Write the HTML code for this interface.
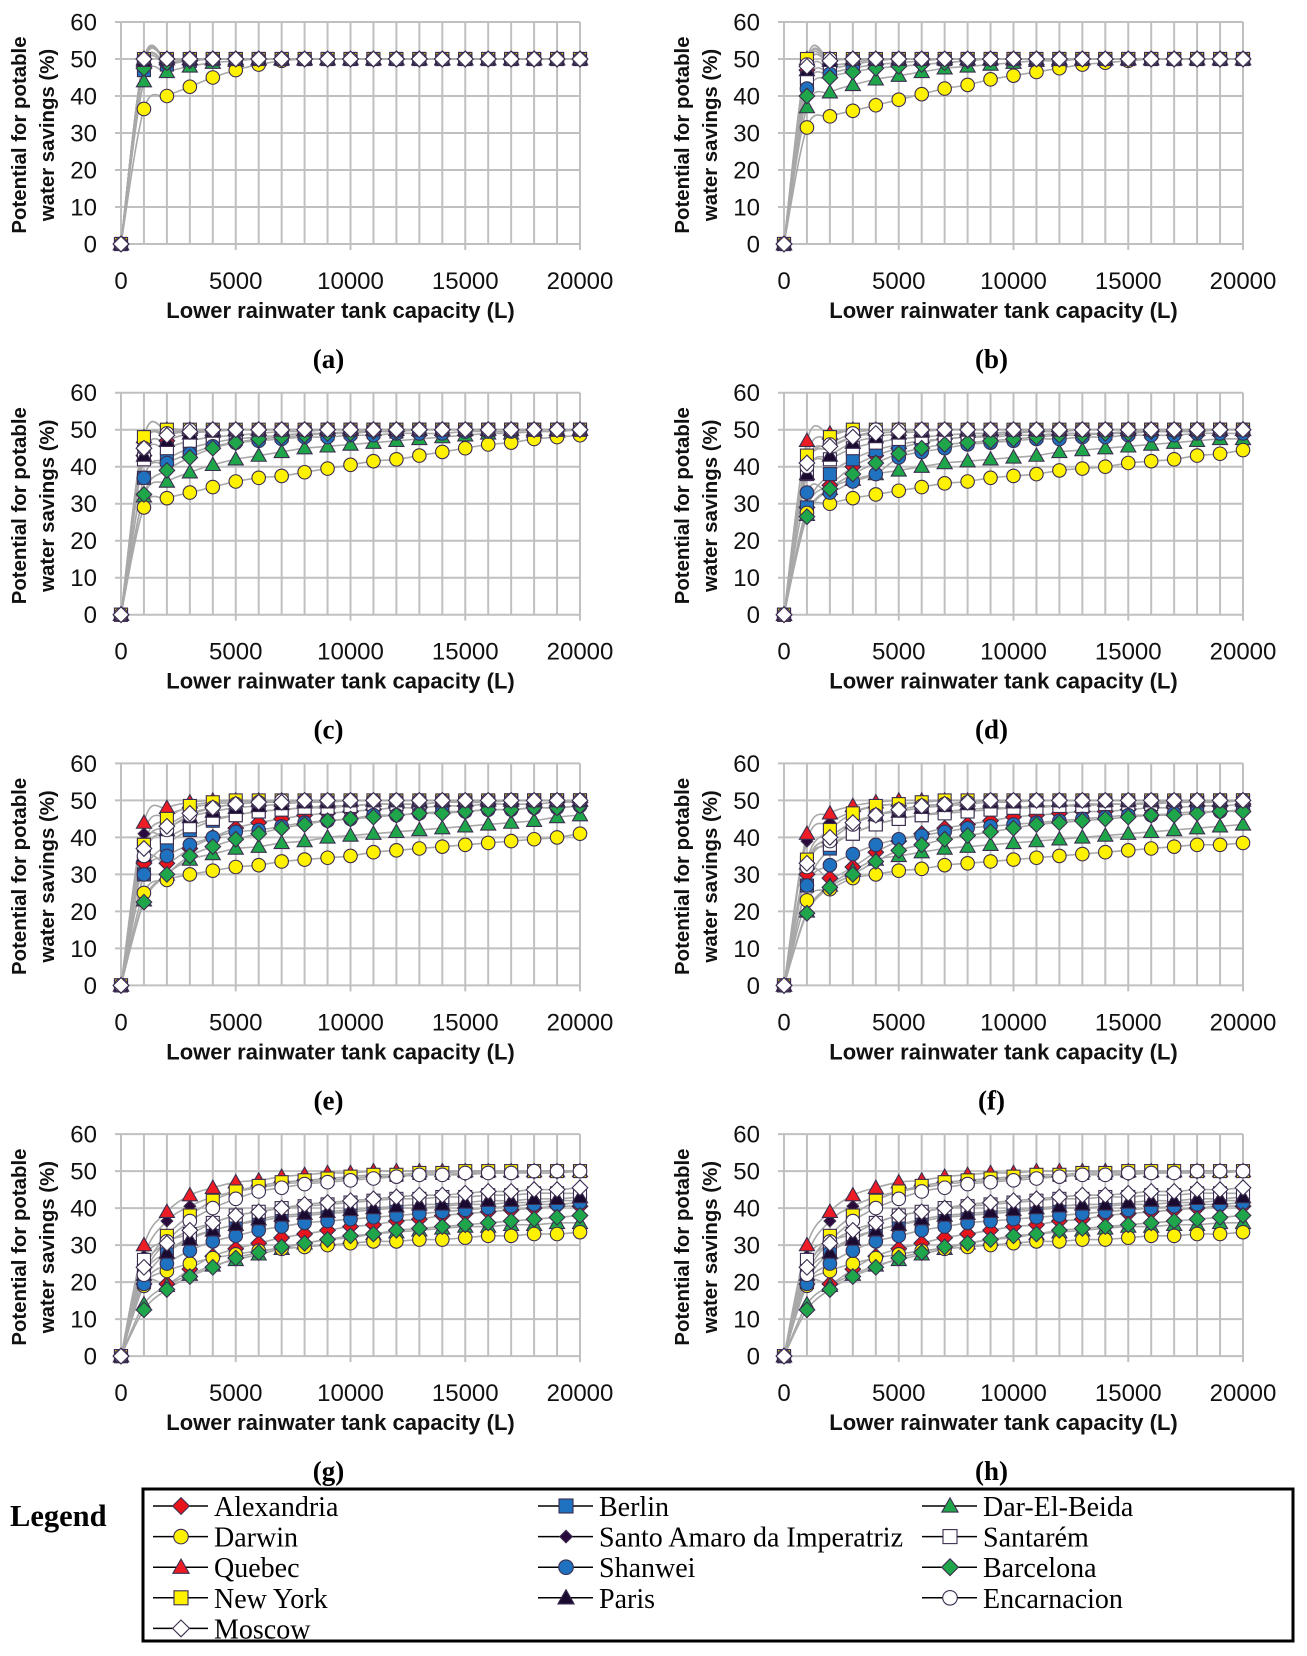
<!DOCTYPE html>
<html><head><meta charset="utf-8"><style>
html,body{margin:0;padding:0;background:#fff;}
svg{display:block;}
</style></head><body>
<svg id="fig" width="1307" height="1656" viewBox="0 0 1307 1656" xmlns="http://www.w3.org/2000/svg"></svg>
<script>
// ---- data ----
const xValues = [0,1000,2000,3000,4000,5000,6000,7000,8000,9000,10000,11000,12000,13000,14000,15000,16000,17000,18000,19000,20000];
const xTicks = [0,5000,10000,15000,20000];
const yTicks = [0,10,20,30,40,50,60];
const seriesNames = ["Alexandria","Berlin","Dar-El-Beida","Darwin","Santo Amaro da Imperatriz","Santarém","Quebec","Shanwei","Barcelona","New York","Paris","Encarnacion","Moscow"];
const panelLabels = ["(a)","(b)","(c)","(d)","(e)","(f)","(g)","(h)"];

const panelA = [
[0,50,50,50,50,50,50,50,50,50,50,50,50,50,50,50,50,50,50,50,50],
[0,47,48.5,49.5,50,50,50,50,50,50,50,50,50,50,50,50,50,50,50,50,50],
[0,44,46.5,48,49,49.5,50,50,50,50,50,50,50,50,50,50,50,50,50,50,50],
[0,36.5,40,42.5,45,47,48.5,49.5,50,50,50,50,50,50,50,50,50,50,50,50,50],
[0,50,50,50,50,50,50,50,50,50,50,50,50,50,50,50,50,50,50,50,50],
[0,49,50,50,50,50,50,50,50,50,50,50,50,50,50,50,50,50,50,50,50],
[0,50,50,50,50,50,50,50,50,50,50,50,50,50,50,50,50,50,50,50,50],
[0,48,49,50,50,50,50,50,50,50,50,50,50,50,50,50,50,50,50,50,50],
[0,47.5,49,49.5,50,50,50,50,50,50,50,50,50,50,50,50,50,50,50,50,50],
[0,50,50,50,50,50,50,50,50,50,50,50,50,50,50,50,50,50,50,50,50],
[0,49.5,50,50,50,50,50,50,50,50,50,50,50,50,50,50,50,50,50,50,50],
[0,50,50,50,50,50,50,50,50,50,50,50,50,50,50,50,50,50,50,50,50],
[0,50,50,50,50,50,50,50,50,50,50,50,50,50,50,50,50,50,50,50,50]];

const panelB = [
[0,47,49.5,50,50,50,50,50,50,50,50,50,50,50,50,50,50,50,50,50,50],
[0,43,47,48.5,49.5,50,50,50,50,50,50,50,50,50,50,50,50,50,50,50,50],
[0,37,41,43,44.5,45.5,46.5,47.5,48,48.5,49,49.5,49.5,50,50,50,50,50,50,50,50],
[0,31.5,34.5,36,37.5,39,40.5,42,43,44.5,45.5,46.5,47.5,48.5,49,49.5,50,50,50,50,50],
[0,49,50,50,50,50,50,50,50,50,50,50,50,50,50,50,50,50,50,50,50],
[0,45,48,49,50,50,50,50,50,50,50,50,50,50,50,50,50,50,50,50,50],
[0,50,50,50,50,50,50,50,50,50,50,50,50,50,50,50,50,50,50,50,50],
[0,42,46,47.5,48.5,49,49.5,50,50,50,50,50,50,50,50,50,50,50,50,50,50],
[0,40,45,46.5,47.5,48,48.5,49,49.5,50,50,50,50,50,50,50,50,50,50,50,50],
[0,50,50,50,50,50,50,50,50,50,50,50,50,50,50,50,50,50,50,50,50],
[0,47,49.5,50,50,50,50,50,50,50,50,50,50,50,50,50,50,50,50,50,50],
[0,48.5,50,50,50,50,50,50,50,50,50,50,50,50,50,50,50,50,50,50,50],
[0,48,49.5,50,50,50,50,50,50,50,50,50,50,50,50,50,50,50,50,50,50]];

const panelC = [
[0,43,47,49,50,50,50,50,50,50,50,50,50,50,50,50,50,50,50,50,50],
[0,37,42,45,46.5,47.5,48,48.5,49,49,49.5,49.5,49.5,50,50,50,50,50,50,50,50],
[0,32,36,38.5,40.5,42,43,44,45,45.5,46,46.5,47,47.5,48,48.5,49,49,49.5,49.5,50],
[0,29,31.5,33,34.5,36,37,37.5,38.5,39.5,40.5,41.5,42,43,44,45,46,46.5,47.5,48,48.5],
[0,45,48.5,50,50,50,50,50,50,50,50,50,50,50,50,50,50,50,50,50,50],
[0,42,45,47,48,48.5,49,49.5,49.5,50,50,50,50,50,50,50,50,50,50,50,50],
[0,48,50,50,50,50,50,50,50,50,50,50,50,50,50,50,50,50,50,50,50],
[0,37,41,43.5,45.5,46.5,47,47.5,48,48,48.5,48.5,49,49,49,49.5,49.5,49.5,50,50,50],
[0,32.5,39,42.5,45,46.5,47.5,48,48.5,49,49,49.5,49.5,50,50,50,50,50,50,50,50],
[0,48,50,50,50,50,50,50,50,50,50,50,50,50,50,50,50,50,50,50,50],
[0,43,47,49,49.5,50,50,50,50,50,50,50,50,50,50,50,50,50,50,50,50],
[0,45,49,50,50,50,50,50,50,50,50,50,50,50,50,50,50,50,50,50,50],
[0,45,48.5,49.5,50,50,50,50,50,50,50,50,50,50,50,50,50,50,50,50,50]];

const panelD = [
[0,29,35,40,43,45,46.5,47.5,48,48.5,49,49.5,49.5,50,50,50,50,50,50,50,50],
[0,29,38,42,44.5,46,47,47.5,48,48,48.5,48.5,49,49,49,49.5,49.5,49.5,50,50,50],
[0,27,34,36.5,38,39,40,41,41.5,42,42.5,43,44,44.5,45,45.5,46,46.5,47,47.5,47.5],
[0,27.5,30,31.5,32.5,33.5,34.5,35.5,36,37,37.5,38,39,39.5,40,41,41.5,42,43,43.5,44.5],
[0,40,45,48,49.5,50,50,50,50,50,50,50,50,50,50,50,50,50,50,50,50],
[0,38,42,45,46.5,47.5,48,48.5,49,49,49.5,49.5,49.5,50,50,50,50,50,50,50,50],
[0,47,49,50,50,50,50,50,50,50,50,50,50,50,50,50,50,50,50,50,50],
[0,33,33,36,38,42.5,44,45,46,46.5,47,47.5,47.5,48,48,48.5,48.5,48.5,49,49,49],
[0,26.5,34,38,41,43.5,45,46,46.5,47,47.5,48,48.5,48.5,49,49,49.5,49.5,49.5,50,50],
[0,43,48,50,50,50,50,50,50,50,50,50,50,50,50,50,50,50,50,50,50],
[0,38,43,46.5,48,49,49.5,50,50,50,50,50,50,50,50,50,50,50,50,50,50],
[0,40,46,49,50,50,50,50,50,50,50,50,50,50,50,50,50,50,50,50,50],
[0,41,45.5,48,49,49.5,50,50,50,50,50,50,50,50,50,50,50,50,50,50,50]];

const panelE = [
[0,33,33,37,40,42.5,44,45,46,46.5,47,47.5,48,48,48.5,48.5,49,49,49,49.5,49.5],
[0,30,38,42,44.5,46,47,47.5,48,48.5,48.5,49,49,49,49.5,49.5,49.5,50,50,50,50],
[0,23,30,34,35.5,37,37.5,38.5,39,40,40.5,41,41.5,42,42.5,43,43.5,44,44.5,45.5,46],
[0,25,28.5,30,31,32,32.5,33.5,34,34.5,35,36,36.5,37,37.5,38,38.5,39,39.5,40,41],
[0,41,46,48,49,49.5,50,50,50,50,50,50,50,50,50,50,50,50,50,50,50],
[0,38,40,43,45,46,47,47.5,48,48,48.5,49,49,49,49.5,49.5,49.5,50,50,50,50],
[0,44,48,49.5,50,50,50,50,50,50,50,50,50,50,50,50,50,50,50,50,50],
[0,30,35,38,40,41.5,42,43,44,44.5,45,46,46,46.5,47,47,47.5,47.5,48,48,48.5],
[0,22.5,30,35,37.5,39.5,41,42.5,43.5,44.5,45,45.5,46,46.5,46.5,47,47.5,47.5,48,48,48.5],
[0,38,45,48.5,49.5,50,50,50,50,50,50,50,50,50,50,50,50,50,50,50,50],
[0,35,42,45.5,47,48,48.5,49,49.5,49.5,50,50,50,50,50,50,50,50,50,50,50],
[0,35,42,46,48,49,49.5,50,50,50,50,50,50,50,50,50,50,50,50,50,50],
[0,37,43,46.5,48,49,49.5,49.5,50,50,50,50,50,50,50,50,50,50,50,50,50]];

const panelF = [
[0,30,29,32,36,39,41,42.5,43.5,44.5,45.5,46,46.5,47,47,47.5,48,48,48.5,48.5,49],
[0,27,37,41,43.5,45,46,47,47.5,48,48,48.5,48.5,49,49,49,49.5,49.5,49.5,50,50],
[0,20,27,31,34,35,36,37,37.5,38,38.5,39,39.5,40,40.5,41,41.5,42,42.5,43,43.5],
[0,23,26,29,30,31,31.5,32.5,33,33.5,34,34.5,35,35.5,36,36.5,37,37.5,38,38,38.5],
[0,39,44,47,48.5,49,49.5,50,50,50,50,50,50,50,50,50,50,50,50,50,50],
[0,33,38,41,43.5,45,46,46.5,47,47.5,48,48,48.5,48.5,49,49,49,49.5,49.5,49.5,50],
[0,41,46.5,48.5,49.5,50,50,50,50,50,50,50,50,50,50,50,50,50,50,50,50],
[0,27,32.5,35.5,38,39.5,40.5,41.5,42.5,43,43.5,44,44.5,45,45.5,46,46,46.5,47,47,47.5],
[0,19.5,26.5,30,33.5,36.5,38,39.5,40.5,41.5,42.5,43.5,44,44.5,45,45.5,46,46,46.5,47,47],
[0,34,42,46.5,48.5,49,49.5,50,50,50,50,50,50,50,50,50,50,50,50,50,50],
[0,33,40,44,46,47,48,48.5,49,49.5,49.5,50,50,50,50,50,50,50,50,50,50],
[0,32,39,43.5,46,47.5,48.5,49,49.5,50,50,50,50,50,50,50,50,50,50,50,50],
[0,33,40,44,46,47.5,48.5,49,49.5,50,50,50,50,50,50,50,50,50,50,50,50]];

const panelG = [
[0,19.5,19.5,23.5,27,29,30.5,32,33,34,35,35.5,36.5,37,38,38.5,39,39.5,40,40.5,40.5],
[0,20,28,32,34,35.5,36.5,37.5,38,38.5,39,39.5,40,40,40.5,41,41,41.5,41.5,42,42],
[0,14,19,22,24.5,26,27.5,29,30.5,31.5,32,33,33.5,34,34.5,35,35,35.5,35.5,36,36],
[0,19,23,25,26.5,27.5,28.5,29,29.5,30,30.5,31,31,31.5,31.5,32,32.5,32.5,33,33,33.5],
[0,27,36.5,40.5,43,44.5,45.5,46.5,47,47.5,48,48.5,48.5,49,49,49,49.5,49.5,49.5,49.5,50],
[0,26,31,33,36,38,39,40,40.5,41,41.5,42,42.5,42.5,43,43,43.5,43.5,44,44,44],
[0,30,39,43.5,45.5,47,47.5,48.5,49,49.5,49.5,50,50,50,50,50,50,50,50,50,50],
[0,19.5,25,28.5,31,32.5,34,35,36,36.5,37,37.5,38,38.5,39,39.5,40,40.5,41,41,41.5],
[0,12.5,18,21.5,24,26.5,28,29.5,30.5,31.5,32.5,33,34,34.5,35,35.5,36,36.5,37,37.5,38],
[0,23,32.5,38,42,44.5,46,47,47.5,48,48.5,49,49,49.5,49.5,50,50,50,50,50,50],
[0,22,28,31.5,34,35.5,37,38,38.5,39,39.5,40,40.5,41,41,41.5,42,42,42.5,42.5,43],
[0,22,31,36.5,40,42.5,44.5,45.5,46.5,47,47.5,48,48.5,49,49,49.5,49.5,49.5,50,50,50],
[0,24,30.5,34,36,38,39,40,41,41.5,42,42.5,43,43.5,43.5,44,44.5,44.5,45,45,45.5]];

const panelH = [
[0,19.5,19.5,23.5,27,29,30.5,32,33,34,35,35.5,36.5,37,38,38.5,39,39.5,40,40.5,40.5],
[0,20,28,32,34,35.5,36.5,37.5,38,38.5,39,39.5,40,40,40.5,41,41,41.5,41.5,42,42],
[0,14,19,22,24.5,26,27.5,29,30.5,31.5,32,33,33.5,34,34.5,35,35,35.5,35.5,36,36],
[0,19,23,25,26.5,27.5,28.5,29,29.5,30,30.5,31,31,31.5,31.5,32,32.5,32.5,33,33,33.5],
[0,27,36.5,40.5,43,44.5,45.5,46.5,47,47.5,48,48.5,48.5,49,49,49,49.5,49.5,49.5,49.5,50],
[0,26,31,33,36,38,39,40,40.5,41,41.5,42,42.5,42.5,43,43,43.5,43.5,44,44,44],
[0,30,39,43.5,45.5,47,47.5,48.5,49,49.5,49.5,50,50,50,50,50,50,50,50,50,50],
[0,19.5,25,28.5,31,32.5,34,35,36,36.5,37,37.5,38,38.5,39,39.5,40,40.5,41,41,41.5],
[0,12.5,18,21.5,24,26.5,28,29.5,30.5,31.5,32.5,33,34,34.5,35,35.5,36,36.5,37,37.5,38],
[0,23,32.5,38,42,44.5,46,47,47.5,48,48.5,49,49,49.5,49.5,50,50,50,50,50,50],
[0,22,28,31.5,34,35.5,37,38,38.5,39,39.5,40,40.5,41,41,41.5,42,42,42.5,42.5,43],
[0,22,31,36.5,40,42.5,44.5,45.5,46.5,47,47.5,48,48.5,49,49,49.5,49.5,49.5,50,50,50],
[0,24,30.5,34,36,38,39,40,41,41.5,42,42.5,43,43.5,43.5,44,44.5,44.5,45,45,45.5]];

const panels = [panelA,panelB,panelC,panelD,panelE,panelF,panelG,panelH];

// ---- styles ----
const markerStyle = [
 {shape:"diamond",fill:"#e8141c"},{shape:"square",fill:"#1f72c0"},{shape:"triangle",fill:"#1fa64a"},
 {shape:"circle",fill:"#fff200"},{shape:"sdiamond",fill:"#2a0a3c"},{shape:"square",fill:"#ffffff"},
 {shape:"triangle",fill:"#ee1c24"},{shape:"circle",fill:"#1f72c0"},{shape:"diamond",fill:"#1fa64a"},
 {shape:"square",fill:"#fff200"},{shape:"triangle",fill:"#1a0a30"},{shape:"circle",fill:"#ffffff"},
 {shape:"diamond",fill:"#ffffff"}];

const NS = "http://www.w3.org/2000/svg";
const svg = document.getElementById('fig');
function mk(tag, attrs, parent){
  const e = document.createElementNS(NS, tag);
  for (const k in attrs) e.setAttribute(k, attrs[k]);
  (parent||svg).appendChild(e);
  return e;
}
function marker(g, shape, fill, cx, cy, s){
  let e;
  const st = {fill:fill, stroke:"#3b2d4f", "stroke-width":1.1};
  if (shape==="circle") e = mk('circle', Object.assign({cx:cx,cy:cy,r:s*0.52}, st), g);
  else if (shape==="square") e = mk('rect', Object.assign({x:cx-s/2,y:cy-s/2,width:s,height:s}, st), g);
  else if (shape==="diamond"||shape==="sdiamond"){ const d = shape==="diamond"? s*0.6 : s*0.45;
    e = mk('polygon', Object.assign({points:`${cx},${cy-d} ${cx+d},${cy} ${cx},${cy+d} ${cx-d},${cy}`}, st), g);}
  else { const d=s*0.58; e = mk('polygon', Object.assign({points:`${cx},${cy-d} ${cx+d},${cy+d*0.75} ${cx-d},${cy+d*0.75}`}, st), g);}
  return e;
}
function smooth(pts){
  let d = `M${pts[0][0]},${pts[0][1]}`;
  for (let i=0;i<pts.length-1;i++){
    const p0=pts[Math.max(0,i-1)], p1=pts[i], p2=pts[i+1], p3=pts[Math.min(pts.length-1,i+2)];
    const c1x=p1[0]+(p2[0]-p0[0])/6, c1y=p1[1]+(p2[1]-p0[1])/6;
    const c2x=p2[0]-(p3[0]-p1[0])/6, c2y=p2[1]-(p3[1]-p1[1])/6;
    d += ` C${c1x},${c1y} ${c2x},${c2y} ${p2[0]},${p2[1]}`;
  }
  return d;
}

const plotW = 459, plotH = 222;
panels.forEach((data, pi)=>{
  const col = pi%2, row = Math.floor(pi/2);
  const left = 121 + col*663, top = 22 + row*370.7;
  const xs = v => left + v/20000*plotW;
  const ys = v => top + plotH - v/60*plotH;
  const g = mk('g', {});
  
  
  xValues.forEach(v=>{ const l=mk('line',{x1:xs(v),x2:xs(v),y1:top,y2:top+plotH,stroke:"#c0c0c0","stroke-width":2},g);
     });
  yTicks.forEach(v=>{ const l=mk('line',{x1:left-6,x2:left+plotW,y1:ys(v),y2:ys(v),stroke:"#c0c0c0","stroke-width":2},g);
     
    const t=mk('text',{x:left-24,y:ys(v)+8.5,"text-anchor":"end","font-family":"Liberation Sans, sans-serif","font-size":24,fill:"#111"},g);
    t.textContent=v;  });
  xTicks.forEach(v=>{ const l=mk('line',{x1:xs(v),x2:xs(v),y1:top+plotH,y2:top+plotH+6,stroke:"#c0c0c0","stroke-width":2},g);
     
    const t=mk('text',{x:xs(v),y:top+plotH+45,"text-anchor":"middle","font-family":"Liberation Sans, sans-serif","font-size":24,fill:"#111"},g);
    t.textContent=v;  });
  const xt = mk('text',{x:left+plotW/2-10,y:top+plotH+74,"text-anchor":"middle","font-family":"Liberation Sans, sans-serif","font-size":22,"font-weight":"bold",fill:"#111"},g);
  xt.textContent="Lower rainwater tank capacity (L)";
   
  const cy = top+plotH/2+2;
  const yt = mk('text',{transform:`translate(${left-95},${cy}) rotate(-90)`,"text-anchor":"middle","font-family":"Liberation Sans, sans-serif","font-size":20.4,"font-weight":"bold",fill:"#111"},g);
   
  const s1=mk('tspan',{x:0,y:0},yt); s1.textContent="Potential for potable";
  const s2=mk('tspan',{x:0,y:28},yt); s2.textContent="water savings (%)";
  const pl = mk('text',{x:left+plotW/2-22,y:top+plotH+124,"text-anchor":"middle","font-family":"Liberation Serif, serif","font-size":27,"font-weight":"bold",fill:"#000"},g);
  pl.textContent = panelLabels[pi];
   
  data.forEach((ser, si)=>{
    const pts = ser.map((v,i)=>[xs(xValues[i]), ys(v)]);
    const p = mk('path',{d:smooth(pts),fill:"none",stroke:"#a8a8a8","stroke-width":1.6},g);
    
    
  });
  data.forEach((ser, si)=>{
    const sg = mk('g',{},g);
    
    
    ser.forEach((v,i)=>{
      const m = marker(sg, markerStyle[si].shape, markerStyle[si].fill, xs(xValues[i]), ys(v), 13);
      
      
    });
  });
});

// ---- legend ----
const lt = mk('text',{x:10,y:1526,"font-family":"Liberation Serif, serif","font-size":30.5,"font-weight":"bold",fill:"#000"});
lt.textContent="Legend";
 
const lb = mk('rect',{x:143,y:1489,width:1150,height:152,fill:"none",stroke:"#000","stroke-width":3});
 
const colX = [153,538,922];
seriesNames.forEach((name, si)=>{
  const c = si%3, r = Math.floor(si/3);
  const x0 = colX[c], y = 1506 + r*30.6;
  const g = mk('g',{});
   
  mk('line',{x1:x0,x2:x0+55,y1:y,y2:y,stroke:"#000","stroke-width":1.5},g);
  marker(g, markerStyle[si].shape, markerStyle[si].fill, x0+28, y, 14);
  const t = mk('text',{x:x0+61,y:y+10,"font-family":"Liberation Serif, serif","font-size":28,fill:"#000"},g);
  t.textContent = name;
});
</script>
</body></html>
